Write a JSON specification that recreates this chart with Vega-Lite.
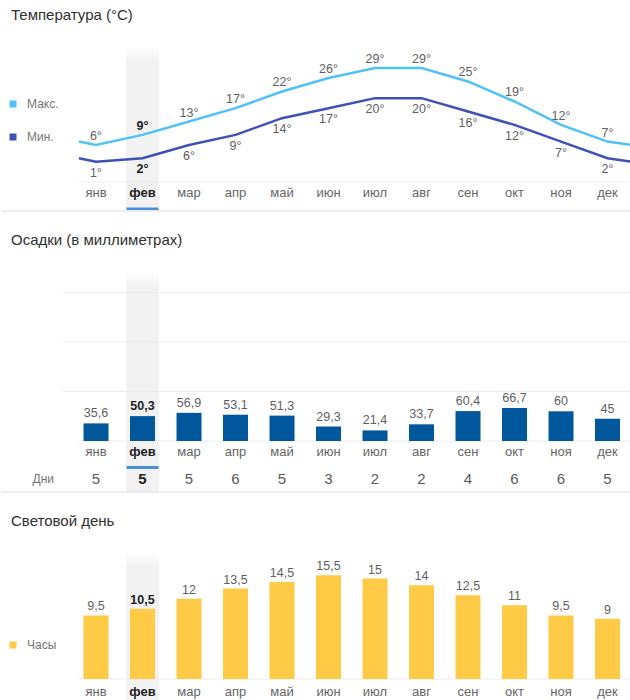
{
  "$schema": "https://vega.github.io/schema/vega-lite/v6.json",
  "padding": {"left": 0, "top": 8, "right": 0, "bottom": 0},
  "spacing": 21,
  "config": {
    "font": "Liberation Sans",
    "view": {"stroke": null},
    "locale": {"number": {"decimal": ",", "thousands": " ", "grouping": [3], "currency": ["", "°"]}},
    "title": {"anchor": "start", "frame": "group", "dx": 10, "fontSize": 15, "fontWeight": "normal", "color": "#303030"}
  },
  "resolve": {"scale": {"x": "independent", "y": "independent", "color": "independent", "fill": "independent", "stroke": "independent"}},
  "datasets": {
    "months": [
      {"m": "янв", "i": 0, "max": 6, "min": 1, "precip": 35.6, "days": 5, "sun": 9.5},
      {"m": "фев", "i": 1, "max": 9, "min": 2, "precip": 50.3, "days": 5, "sun": 10.5},
      {"m": "мар", "i": 2, "max": 13, "min": 6, "precip": 56.9, "days": 5, "sun": 12},
      {"m": "апр", "i": 3, "max": 17, "min": 9, "precip": 53.1, "days": 6, "sun": 13.5},
      {"m": "май", "i": 4, "max": 22, "min": 14, "precip": 51.3, "days": 5, "sun": 14.5},
      {"m": "июн", "i": 5, "max": 26, "min": 17, "precip": 29.3, "days": 3, "sun": 15.5},
      {"m": "июл", "i": 6, "max": 29, "min": 20, "precip": 21.4, "days": 2, "sun": 15},
      {"m": "авг", "i": 7, "max": 29, "min": 20, "precip": 33.7, "days": 2, "sun": 14},
      {"m": "сен", "i": 8, "max": 25, "min": 16, "precip": 60.4, "days": 4, "sun": 12.5},
      {"m": "окт", "i": 9, "max": 19, "min": 12, "precip": 66.7, "days": 6, "sun": 11},
      {"m": "ноя", "i": 10, "max": 12, "min": 7, "precip": 60, "days": 6, "sun": 9.5},
      {"m": "дек", "i": 11, "max": 7, "min": 2, "precip": 45, "days": 5, "sun": 9}
    ],
    "temp": [
      {"i": -1, "max": 7, "min": 2},
      {"i": 0, "max": 6, "min": 1},
      {"i": 1, "max": 9, "min": 2},
      {"i": 2, "max": 13, "min": 6},
      {"i": 3, "max": 17, "min": 9},
      {"i": 4, "max": 22, "min": 14},
      {"i": 5, "max": 26, "min": 17},
      {"i": 6, "max": 29, "min": 20},
      {"i": 7, "max": 29, "min": 20},
      {"i": 8, "max": 25, "min": 16},
      {"i": 9, "max": 19, "min": 12},
      {"i": 10, "max": 12, "min": 7},
      {"i": 11, "max": 7, "min": 2},
      {"i": 12, "max": 6, "min": 1}
    ]
  },
  "vconcat": [
    {
      "width": 630,
      "height": 166,
      "title": {"text": "Температура (°C)", "offset": 22},
      "layer": [
        {
          "data": {"values": [{}]},
          "mark": {"type": "bar", "size": 33, "color": {"gradient": "linear", "x1": 0, "y1": 0, "x2": 0, "y2": 1, "stops": [{"offset": 0, "color": "#ffffff"}, {"offset": 0.1, "color": "#f2f2f2"}, {"offset": 1, "color": "#f2f2f2"}]}},
          "encoding": {
            "x": {"datum": 1, "type": "quantitative", "scale": {"domain": [-0.366, 11.505], "range": [78, 630], "clamp": true, "nice": false, "zero": false, "padding": 0}, "axis": null},
            "y": {"datum": 35.9, "type": "quantitative", "scale": {"domain": [-13.77, 35.9], "nice": false, "zero": false, "padding": 0}, "axis": null},
            "y2": {"datum": -13.77}
          }
        },
        {
          "data": {"values": [{}]},
          "mark": {"type": "rule", "color": "#ebebeb", "strokeWidth": 1},
          "encoding": {"x": {"datum": -0.366, "type": "quantitative"}, "x2": {"datum": 11.505}, "y": {"datum": -5.09, "type": "quantitative"}}
        },
        {
          "data": {"name": "temp"},
          "transform": [{"fold": ["max", "min"], "as": ["series", "tv"]}, {"filter": "datum.i >= 0 && datum.i <= 11"}],
          "mark": {"type": "square", "size": 2, "opacity": 1, "filled": true},
          "encoding": {
            "x": {"field": "i", "type": "quantitative"},
            "y": {"field": "tv", "type": "quantitative"},
            "color": {"field": "series", "type": "nominal", "scale": {"domain": ["max", "min"], "range": ["#4FC3F7", "#3F51B5"]},
              "legend": {"orient": "none", "legendX": 6, "legendY": 53, "title": null, "symbolType": "square", "symbolSize": 49, "symbolStrokeWidth": 0, "symbolOpacity": 1, "labelExpr": "datum.value == 'max' ? 'Макс.' : 'Мин.'", "labelFontSize": 12, "labelColor": "#757575", "labelOffset": 8, "rowPadding": 21}}
          }
        },
        {
          "data": {"name": "temp"},
          "transform": [{"fold": ["max", "min"], "as": ["k", "t"]}],
          "mark": {"type": "line", "strokeWidth": 2.5},
          "encoding": {
            "x": {"field": "i", "type": "quantitative"},
            "y": {"field": "t", "type": "quantitative"},
            "stroke": {"field": "k", "type": "nominal", "scale": {"domain": ["max", "min"], "range": ["#4FC3F7", "#3F51B5"]}, "legend": null}
          }
        },
        {
          "data": {"name": "months"},
          "transform": [{"filter": "datum.i != 1"}],
          "mark": {"type": "text", "dy": -9, "fontSize": 12.5, "color": "#5f5f5f"},
          "encoding": {"x": {"field": "i", "type": "quantitative"}, "y": {"field": "max", "type": "quantitative"}, "text": {"field": "max", "type": "quantitative", "format": "$d"}}
        },
        {
          "data": {"name": "months"},
          "transform": [{"filter": "datum.i == 1"}],
          "mark": {"type": "text", "dy": -9, "fontSize": 12.5, "fontWeight": "bold", "color": "#222222"},
          "encoding": {"x": {"field": "i", "type": "quantitative"}, "y": {"field": "max", "type": "quantitative"}, "text": {"field": "max", "type": "quantitative", "format": "$d"}}
        },
        {
          "data": {"name": "months"},
          "transform": [{"filter": "datum.i != 1"}],
          "mark": {"type": "text", "dy": 11, "fontSize": 12.5, "color": "#5f5f5f"},
          "encoding": {"x": {"field": "i", "type": "quantitative"}, "y": {"field": "min", "type": "quantitative"}, "text": {"field": "min", "type": "quantitative", "format": "$d"}}
        },
        {
          "data": {"name": "months"},
          "transform": [{"filter": "datum.i == 1"}],
          "mark": {"type": "text", "dy": 11, "fontSize": 12.5, "fontWeight": "bold", "color": "#222222"},
          "encoding": {"x": {"field": "i", "type": "quantitative"}, "y": {"field": "min", "type": "quantitative"}, "text": {"field": "min", "type": "quantitative", "format": "$d"}}
        },
        {
          "data": {"name": "months"},
          "transform": [{"filter": "datum.i != 1"}],
          "mark": {"type": "text", "fontSize": 13, "color": "#666666"},
          "encoding": {"x": {"field": "i", "type": "quantitative"}, "y": {"datum": -8.38, "type": "quantitative"}, "text": {"field": "m", "type": "nominal"}}
        },
        {
          "data": {"name": "months"},
          "transform": [{"filter": "datum.i == 1"}],
          "mark": {"type": "text", "fontSize": 13, "fontWeight": "bold", "color": "#222222"},
          "encoding": {"x": {"field": "i", "type": "quantitative"}, "y": {"datum": -8.38, "type": "quantitative"}, "text": {"field": "m", "type": "nominal"}}
        },
        {
          "data": {"values": [{}]},
          "mark": {"type": "bar", "size": 32, "color": "#4a8fdc"},
          "encoding": {"x": {"datum": 1, "type": "quantitative"}, "y": {"datum": -12.72, "type": "quantitative"}, "y2": {"datum": -13.47}}
        },
        {
          "data": {"values": [{}]},
          "mark": {"type": "rule", "color": "#dddddd", "strokeWidth": 1},
          "encoding": {"y": {"datum": -13.77, "type": "quantitative"}}
        }
      ]
    },
    {
      "width": 630,
      "height": 236,
      "title": {"text": "Осадки (в миллиметрах)", "offset": 8},
      "layer": [
        {
          "data": {"values": [{}]},
          "mark": {"type": "bar", "size": 33, "color": {"gradient": "linear", "x1": 0, "y1": 0, "x2": 0, "y2": 1, "stops": [{"offset": 0, "color": "#ffffff"}, {"offset": 0.08, "color": "#f2f2f2"}, {"offset": 1, "color": "#f2f2f2"}]}},
          "encoding": {
            "x": {"datum": 1, "type": "quantitative", "scale": {"domain": [-0.366, 11.505], "range": [78, 630], "nice": false, "zero": false, "padding": 0}, "axis": null},
            "y": {"datum": 345.5, "type": "quantitative", "scale": {"domain": [-103, 373.7], "nice": false, "zero": false, "padding": 0}, "axis": null},
            "y2": {"datum": -103}
          }
        },
        {
          "data": {"values": [{"g": 100}, {"g": 200}, {"g": 300}]},
          "mark": {"type": "rule", "color": "#ececec", "strokeWidth": 1},
          "encoding": {"x": {"datum": -0.71, "type": "quantitative"}, "x2": {"datum": 11.505}, "y": {"field": "g", "type": "quantitative"}}
        },
        {
          "data": {"values": [{}]},
          "mark": {"type": "rule", "color": "#ececec", "strokeWidth": 1},
          "encoding": {"x": {"datum": -0.366, "type": "quantitative"}, "x2": {"datum": 11.505}, "y": {"datum": 0, "type": "quantitative"}}
        },
        {
          "data": {"name": "months"},
          "mark": {"type": "bar", "size": 25, "color": "#01579B"},
          "encoding": {"x": {"field": "i", "type": "quantitative"}, "y": {"field": "precip", "type": "quantitative"}, "y2": {"datum": 0}}
        },
        {
          "data": {"name": "months"},
          "transform": [{"filter": "datum.i != 1"}],
          "mark": {"type": "text", "dy": -10, "fontSize": 12.5, "color": "#5f5f5f"},
          "encoding": {"x": {"field": "i", "type": "quantitative"}, "y": {"field": "precip", "type": "quantitative"}, "text": {"field": "precip", "type": "quantitative", "format": "~g"}}
        },
        {
          "data": {"name": "months"},
          "transform": [{"filter": "datum.i == 1"}],
          "mark": {"type": "text", "dy": -10, "fontSize": 12.5, "fontWeight": "bold", "color": "#222222"},
          "encoding": {"x": {"field": "i", "type": "quantitative"}, "y": {"field": "precip", "type": "quantitative"}, "text": {"field": "precip", "type": "quantitative", "format": "~g"}}
        },
        {
          "data": {"name": "months"},
          "transform": [{"filter": "datum.i != 1"}],
          "mark": {"type": "text", "fontSize": 13, "color": "#666666"},
          "encoding": {"x": {"field": "i", "type": "quantitative"}, "y": {"datum": -21.6, "type": "quantitative"}, "text": {"field": "m", "type": "nominal"}}
        },
        {
          "data": {"name": "months"},
          "transform": [{"filter": "datum.i == 1"}],
          "mark": {"type": "text", "fontSize": 13, "fontWeight": "bold", "color": "#222222"},
          "encoding": {"x": {"field": "i", "type": "quantitative"}, "y": {"datum": -21.6, "type": "quantitative"}, "text": {"field": "m", "type": "nominal"}}
        },
        {
          "data": {"values": [{}]},
          "mark": {"type": "bar", "size": 32, "color": "#4a8fdc"},
          "encoding": {"x": {"datum": 1, "type": "quantitative"}, "y": {"datum": -50.5, "type": "quantitative"}, "y2": {"datum": -56.6}}
        },
        {
          "data": {"name": "months"},
          "transform": [{"filter": "datum.i != 1"}],
          "mark": {"type": "text", "fontSize": 15, "color": "#5a5a5a"},
          "encoding": {"x": {"field": "i", "type": "quantitative"}, "y": {"datum": -77.4, "type": "quantitative"}, "text": {"field": "days", "type": "quantitative"}}
        },
        {
          "data": {"name": "months"},
          "transform": [{"filter": "datum.i == 1"}],
          "mark": {"type": "text", "fontSize": 15, "fontWeight": "bold", "color": "#222222"},
          "encoding": {"x": {"field": "i", "type": "quantitative"}, "y": {"datum": -77.4, "type": "quantitative"}, "text": {"field": "days", "type": "quantitative"}}
        },
        {
          "data": {"values": [{"label": "Дни"}]},
          "mark": {"type": "text", "fontSize": 12, "align": "right", "color": "#757575"},
          "encoding": {"x": {"datum": -0.904, "type": "quantitative"}, "y": {"datum": -77.4, "type": "quantitative"}, "text": {"field": "label", "type": "nominal"}}
        },
        {
          "data": {"values": [{}]},
          "mark": {"type": "rule", "color": "#dddddd", "strokeWidth": 1},
          "encoding": {"y": {"datum": -103, "type": "quantitative"}}
        }
      ]
    },
    {
      "width": 630,
      "height": 150,
      "title": {"text": "Световой день", "offset": 23},
      "layer": [
        {
          "data": {"values": [{}]},
          "mark": {"type": "bar", "size": 33, "color": {"gradient": "linear", "x1": 0, "y1": 0, "x2": 0, "y2": 1, "stops": [{"offset": 0, "color": "#ffffff"}, {"offset": 0.1, "color": "#f2f2f2"}, {"offset": 1, "color": "#f2f2f2"}]}},
          "encoding": {
            "x": {"datum": 1, "type": "quantitative", "scale": {"domain": [-0.366, 11.505], "range": [78, 630], "nice": false, "zero": false, "padding": 0}, "axis": null},
            "y": {"datum": 18.96, "type": "quantitative", "scale": {"domain": [-3.43, 18.96], "nice": false, "zero": false, "padding": 0}, "axis": null},
            "y2": {"datum": -3.43}
          }
        },
        {
          "data": {"values": [{}]},
          "mark": {"type": "rule", "color": "#ececec", "strokeWidth": 1},
          "encoding": {"x": {"datum": -0.366, "type": "quantitative"}, "x2": {"datum": 11.505}, "y": {"datum": 0, "type": "quantitative"}}
        },
        {
          "data": {"name": "months"},
          "mark": {"type": "bar", "size": 25},
          "encoding": {
            "x": {"field": "i", "type": "quantitative"},
            "y": {"field": "sun", "type": "quantitative"},
            "y2": {"datum": 0},
            "color": {"datum": "Часы", "type": "nominal", "scale": {"range": ["#FFCA45"]},
              "legend": {"orient": "none", "legendX": 6, "legendY": 87, "title": null, "symbolType": "square", "symbolSize": 49, "symbolStrokeWidth": 0, "labelFontSize": 12, "labelColor": "#757575", "labelOffset": 8}}
          }
        },
        {
          "data": {"name": "months"},
          "transform": [{"filter": "datum.i != 1"}],
          "mark": {"type": "text", "dy": -9, "fontSize": 12.5, "color": "#5f5f5f"},
          "encoding": {"x": {"field": "i", "type": "quantitative"}, "y": {"field": "sun", "type": "quantitative"}, "text": {"field": "sun", "type": "quantitative", "format": "~g"}}
        },
        {
          "data": {"name": "months"},
          "transform": [{"filter": "datum.i == 1"}],
          "mark": {"type": "text", "dy": -9, "fontSize": 12.5, "fontWeight": "bold", "color": "#222222"},
          "encoding": {"x": {"field": "i", "type": "quantitative"}, "y": {"field": "sun", "type": "quantitative"}, "text": {"field": "sun", "type": "quantitative", "format": "~g"}}
        },
        {
          "data": {"name": "months"},
          "transform": [{"filter": "datum.i != 1"}],
          "mark": {"type": "text", "fontSize": 13, "color": "#666666"},
          "encoding": {"x": {"field": "i", "type": "quantitative"}, "y": {"datum": -1.94, "type": "quantitative"}, "text": {"field": "m", "type": "nominal"}}
        },
        {
          "data": {"name": "months"},
          "transform": [{"filter": "datum.i == 1"}],
          "mark": {"type": "text", "fontSize": 13, "fontWeight": "bold", "color": "#222222"},
          "encoding": {"x": {"field": "i", "type": "quantitative"}, "y": {"datum": -1.94, "type": "quantitative"}, "text": {"field": "m", "type": "nominal"}}
        }
      ]
    }
  ]
}
